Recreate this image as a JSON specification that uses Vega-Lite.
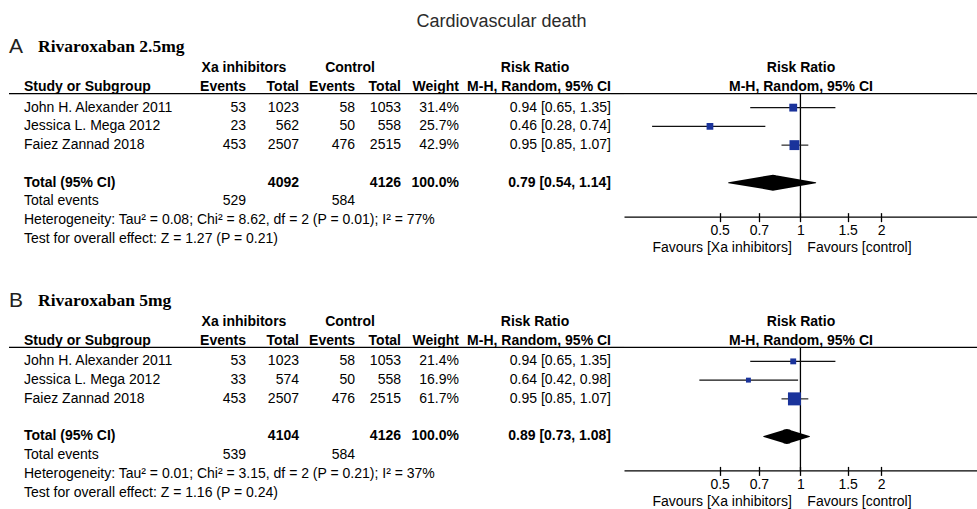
{
"$schema": "https://vega.github.io/schema/vega-lite/v6.json",
"autosize": {"type": "pad"},
"padding": {"left": 8, "top": 13, "right": 0, "bottom": 0},
"background": "white",
"title": {"text": "Cardiovascular death", "fontSize": 18, "font": "Liberation Sans", "fontWeight": "normal", "color": "#2b2b2b", "anchor": "middle", "offset": 5, "dx": 8},
"datasets": {
"t": [
{"panel": "A", "row": "r1", "study": "John H. Alexander 2011", "ev1": 53, "tot1": 1023, "ev2": 58, "tot2": 1053, "weight": 0.314, "rr": 0.94, "lo": 0.65, "hi": 1.35},
{"panel": "A", "row": "r2", "study": "Jessica L. Mega 2012", "ev1": 23, "tot1": 562, "ev2": 50, "tot2": 558, "weight": 0.257, "rr": 0.46, "lo": 0.28, "hi": 0.74},
{"panel": "A", "row": "r3", "study": "Faiez Zannad 2018", "ev1": 453, "tot1": 2507, "ev2": 476, "tot2": 2515, "weight": 0.429, "rr": 0.95, "lo": 0.85, "hi": 1.07},
{"panel": "A", "row": "tot", "study": "Total (95% CI)", "tot1": 4092, "tot2": 4126, "weight": 1.0, "rr": 0.79, "lo": 0.54, "hi": 1.14},
{"panel": "A", "row": "tev", "study": "Total events", "ev1": 529, "ev2": 584},
{"panel": "A", "row": "het", "study": "Heterogeneity: Tau² = 0.08; Chi² = 8.62, df = 2 (P = 0.01); I² = 77%"},
{"panel": "A", "row": "test", "study": "Test for overall effect: Z = 1.27 (P = 0.21)"},
{"panel": "B", "row": "r1", "study": "John H. Alexander 2011", "ev1": 53, "tot1": 1023, "ev2": 58, "tot2": 1053, "weight": 0.214, "rr": 0.94, "lo": 0.65, "hi": 1.35},
{"panel": "B", "row": "r2", "study": "Jessica L. Mega 2012", "ev1": 33, "tot1": 574, "ev2": 50, "tot2": 558, "weight": 0.169, "rr": 0.64, "lo": 0.42, "hi": 0.98},
{"panel": "B", "row": "r3", "study": "Faiez Zannad 2018", "ev1": 453, "tot1": 2507, "ev2": 476, "tot2": 2515, "weight": 0.617, "rr": 0.95, "lo": 0.85, "hi": 1.07},
{"panel": "B", "row": "tot", "study": "Total (95% CI)", "tot1": 4104, "tot2": 4126, "weight": 1.0, "rr": 0.89, "lo": 0.73, "hi": 1.08},
{"panel": "B", "row": "tev", "study": "Total events", "ev1": 539, "ev2": 584},
{"panel": "B", "row": "het", "study": "Heterogeneity: Tau² = 0.01; Chi² = 3.15, df = 2 (P = 0.21); I² = 37%"},
{"panel": "B", "row": "test", "study": "Test for overall effect: Z = 1.16 (P = 0.24)"}
],
"p": [
{"panel": "A", "row": "ttl", "lab": "A", "name": "Rivaroxaban 2.5mg"},
{"panel": "B", "row": "ttl", "lab": "B", "name": "Rivaroxaban 5mg"}
],
"h": [
{"row": "h1", "col": "g1", "text": "Xa inhibitors"},
{"row": "h1", "col": "g2", "text": "Control"},
{"row": "h1", "col": "ci", "text": "Risk Ratio"},
{"row": "h1", "col": "fp", "text": "Risk Ratio"},
{"row": "h2", "col": "study", "text": "Study or Subgroup"},
{"row": "h2", "col": "ev1", "text": "Events"},
{"row": "h2", "col": "tot1", "text": "Total"},
{"row": "h2", "col": "ev2", "text": "Events"},
{"row": "h2", "col": "tot2", "text": "Total"},
{"row": "h2", "col": "wt", "text": "Weight"},
{"row": "h2", "col": "ci", "text": "M-H, Random, 95% CI"},
{"row": "h2", "col": "fp", "text": "M-H, Random, 95% CI"}
]
},
"columns": 10,
"spacing": {"row": 46.75, "column": 0},
"bounds": "flush",
"concat": [
{"width": 15, "height": 206.25, "encoding": {"y": {"field": "row", "type": "nominal", "scale": {"domain": ["ttl","h1","h2","r1","r2","r3","gap","tot","tev","het","test"]}, "axis": null}}, "layer": [
{"data": {"name": "p"}, "transform": [{"filter": "datum.panel=='A'"}], "mark": {"type": "text", "align": "left", "fontSize": 21, "dy": -4, "color": "#231f20"}, "encoding": {"x": {"value": 0}, "text": {"field": "lab"}}},
{"data": {"values": [{"k": 1}]}, "mark": {"type": "rule", "yOffset": -14, "strokeWidth": 1.3, "color": "#000"}, "encoding": {"y": {"datum": "r1", "type": "nominal", "scale": {"domain": ["ttl","h1","h2","r1","r2","r3","gap","tot","tev","het","test"]}}}}
]},
{"width": 178, "height": 206.25, "encoding": {"y": {"field": "row", "type": "nominal", "scale": {"domain": ["ttl","h1","h2","r1","r2","r3","gap","tot","tev","het","test"]}, "axis": null}}, "layer": [
{"data": {"name": "p"}, "transform": [{"filter": "datum.panel=='A'"}], "mark": {"type": "text", "align": "left", "font": "Liberation Serif", "fontWeight": "bold", "fontSize": 17.5, "dx": 14, "dy": -4}, "encoding": {"x": {"value": 0}, "text": {"field": "name"}}},
{"data": {"name": "t"}, "transform": [{"filter": "datum.panel=='A' && datum.row!='tot'"}], "mark": {"type": "text", "align": "left"}, "encoding": {"x": {"value": 0}, "text": {"field": "study"}}},
{"data": {"name": "t"}, "transform": [{"filter": "datum.panel=='A' && datum.row=='tot'"}], "mark": {"type": "text", "align": "left", "fontWeight": "bold"}, "encoding": {"x": {"value": 0}, "text": {"field": "study"}}},
{"data": {"name": "h"}, "transform": [{"filter": "datum.col=='study'"}], "mark": {"type": "text", "align": "left", "fontWeight": "bold", "dy": -2}, "encoding": {"x": {"value": 0}, "text": {"field": "text"}}},
{"data": {"values": [{"k": 1}]}, "mark": {"type": "rule", "yOffset": -14, "strokeWidth": 1.3, "color": "#000"}, "encoding": {"y": {"datum": "r1", "type": "nominal", "scale": {"domain": ["ttl","h1","h2","r1","r2","r3","gap","tot","tev","het","test"]}}}}
]},
{"width": 44, "height": 206.25, "encoding": {"y": {"field": "row", "type": "nominal", "scale": {"domain": ["ttl","h1","h2","r1","r2","r3","gap","tot","tev","het","test"]}, "axis": null}}, "layer": [
{"data": {"name": "t"}, "transform": [{"filter": "datum.panel=='A' && isValid(datum.ev1)"}], "mark": {"type": "text", "align": "right"}, "encoding": {"x": {"value": "width"}, "text": {"field": "ev1", "type": "nominal"}}},
{"data": {"name": "h"}, "transform": [{"filter": "datum.col=='ev1'"}], "mark": {"type": "text", "align": "right", "fontWeight": "bold", "dy": -2}, "encoding": {"x": {"value": "width"}, "text": {"field": "text"}}},
{"data": {"name": "h"}, "transform": [{"filter": "datum.col=='g1'"}], "mark": {"type": "text", "align": "center", "fontWeight": "bold", "dy": -2, "dx": -2}, "encoding": {"x": {"value": "width"}, "text": {"field": "text"}}},
{"data": {"values": [{"k": 1}]}, "mark": {"type": "rule", "yOffset": -14, "strokeWidth": 1.3, "color": "#000"}, "encoding": {"y": {"datum": "r1", "type": "nominal", "scale": {"domain": ["ttl","h1","h2","r1","r2","r3","gap","tot","tev","het","test"]}}}}
]},
{"width": 53, "height": 206.25, "encoding": {"y": {"field": "row", "type": "nominal", "scale": {"domain": ["ttl","h1","h2","r1","r2","r3","gap","tot","tev","het","test"]}, "axis": null}}, "layer": [
{"data": {"name": "t"}, "transform": [{"filter": "datum.panel=='A' && isValid(datum.tot1) && datum.row!='tot'"}], "mark": {"type": "text", "align": "right"}, "encoding": {"x": {"value": "width"}, "text": {"field": "tot1", "type": "nominal"}}},
{"data": {"name": "t"}, "transform": [{"filter": "datum.panel=='A' && datum.row=='tot'"}], "mark": {"type": "text", "align": "right", "fontWeight": "bold"}, "encoding": {"x": {"value": "width"}, "text": {"field": "tot1", "type": "nominal"}}},
{"data": {"name": "h"}, "transform": [{"filter": "datum.col=='tot1'"}], "mark": {"type": "text", "align": "right", "fontWeight": "bold", "dy": -2}, "encoding": {"x": {"value": "width"}, "text": {"field": "text"}}},
{"data": {"values": [{"k": 1}]}, "mark": {"type": "rule", "yOffset": -14, "strokeWidth": 1.3, "color": "#000"}, "encoding": {"y": {"datum": "r1", "type": "nominal", "scale": {"domain": ["ttl","h1","h2","r1","r2","r3","gap","tot","tev","het","test"]}}}}
]},
{"width": 56, "height": 206.25, "encoding": {"y": {"field": "row", "type": "nominal", "scale": {"domain": ["ttl","h1","h2","r1","r2","r3","gap","tot","tev","het","test"]}, "axis": null}}, "layer": [
{"data": {"name": "t"}, "transform": [{"filter": "datum.panel=='A' && isValid(datum.ev2)"}], "mark": {"type": "text", "align": "right"}, "encoding": {"x": {"value": "width"}, "text": {"field": "ev2", "type": "nominal"}}},
{"data": {"name": "h"}, "transform": [{"filter": "datum.col=='ev2'"}], "mark": {"type": "text", "align": "right", "fontWeight": "bold", "dy": -2}, "encoding": {"x": {"value": "width"}, "text": {"field": "text"}}},
{"data": {"name": "h"}, "transform": [{"filter": "datum.col=='g2'"}], "mark": {"type": "text", "align": "center", "fontWeight": "bold", "dy": -2, "dx": -5}, "encoding": {"x": {"value": "width"}, "text": {"field": "text"}}},
{"data": {"values": [{"k": 1}]}, "mark": {"type": "rule", "yOffset": -14, "strokeWidth": 1.3, "color": "#000"}, "encoding": {"y": {"datum": "r1", "type": "nominal", "scale": {"domain": ["ttl","h1","h2","r1","r2","r3","gap","tot","tev","het","test"]}}}}
]},
{"width": 46, "height": 206.25, "encoding": {"y": {"field": "row", "type": "nominal", "scale": {"domain": ["ttl","h1","h2","r1","r2","r3","gap","tot","tev","het","test"]}, "axis": null}}, "layer": [
{"data": {"name": "t"}, "transform": [{"filter": "datum.panel=='A' && isValid(datum.tot2) && datum.row!='tot'"}], "mark": {"type": "text", "align": "right"}, "encoding": {"x": {"value": "width"}, "text": {"field": "tot2", "type": "nominal"}}},
{"data": {"name": "t"}, "transform": [{"filter": "datum.panel=='A' && datum.row=='tot'"}], "mark": {"type": "text", "align": "right", "fontWeight": "bold"}, "encoding": {"x": {"value": "width"}, "text": {"field": "tot2", "type": "nominal"}}},
{"data": {"name": "h"}, "transform": [{"filter": "datum.col=='tot2'"}], "mark": {"type": "text", "align": "right", "fontWeight": "bold", "dy": -2}, "encoding": {"x": {"value": "width"}, "text": {"field": "text"}}},
{"data": {"values": [{"k": 1}]}, "mark": {"type": "rule", "yOffset": -14, "strokeWidth": 1.3, "color": "#000"}, "encoding": {"y": {"datum": "r1", "type": "nominal", "scale": {"domain": ["ttl","h1","h2","r1","r2","r3","gap","tot","tev","het","test"]}}}}
]},
{"width": 58, "height": 206.25, "encoding": {"y": {"field": "row", "type": "nominal", "scale": {"domain": ["ttl","h1","h2","r1","r2","r3","gap","tot","tev","het","test"]}, "axis": null}}, "layer": [
{"data": {"name": "t"}, "transform": [{"filter": "datum.panel=='A' && isValid(datum.weight) && datum.row!='tot'"}], "mark": {"type": "text", "align": "right"}, "encoding": {"x": {"value": "width"}, "text": {"field": "weight", "type": "quantitative", "format": ".1%"}}},
{"data": {"name": "t"}, "transform": [{"filter": "datum.panel=='A' && datum.row=='tot'"}], "mark": {"type": "text", "align": "right", "fontWeight": "bold"}, "encoding": {"x": {"value": "width"}, "text": {"field": "weight", "type": "quantitative", "format": ".1%"}}},
{"data": {"name": "h"}, "transform": [{"filter": "datum.col=='wt'"}], "mark": {"type": "text", "align": "right", "fontWeight": "bold", "dy": -2}, "encoding": {"x": {"value": "width"}, "text": {"field": "text"}}},
{"data": {"values": [{"k": 1}]}, "mark": {"type": "rule", "yOffset": -14, "strokeWidth": 1.3, "color": "#000"}, "encoding": {"y": {"datum": "r1", "type": "nominal", "scale": {"domain": ["ttl","h1","h2","r1","r2","r3","gap","tot","tev","het","test"]}}}}
]},
{"width": 152, "height": 206.25, "encoding": {"y": {"field": "row", "type": "nominal", "scale": {"domain": ["ttl","h1","h2","r1","r2","r3","gap","tot","tev","het","test"]}, "axis": null}}, "layer": [
{"data": {"name": "t"}, "transform": [{"filter": "datum.panel=='A' && isValid(datum.rr) && datum.row!='tot'"}, {"calculate": "format(datum.rr,'.2f')+' ['+format(datum.lo,'.2f')+', '+format(datum.hi,'.2f')+']'", "as": "ci"}], "mark": {"type": "text", "align": "right"}, "encoding": {"x": {"value": "width"}, "text": {"field": "ci"}}},
{"data": {"name": "t"}, "transform": [{"filter": "datum.panel=='A' && datum.row=='tot'"}, {"calculate": "format(datum.rr,'.2f')+' ['+format(datum.lo,'.2f')+', '+format(datum.hi,'.2f')+']'", "as": "ci"}], "mark": {"type": "text", "align": "right", "fontWeight": "bold"}, "encoding": {"x": {"value": "width"}, "text": {"field": "ci"}}},
{"data": {"name": "h"}, "transform": [{"filter": "datum.col=='ci' && datum.row=='h1'"}], "mark": {"type": "text", "align": "center", "fontWeight": "bold", "dy": -2}, "encoding": {"text": {"field": "text"}}},
{"data": {"name": "h"}, "transform": [{"filter": "datum.col=='ci' && datum.row=='h2'"}], "mark": {"type": "text", "align": "right", "fontWeight": "bold", "dy": -2}, "encoding": {"x": {"value": "width"}, "text": {"field": "text"}}},
{"data": {"values": [{"k": 1}]}, "mark": {"type": "rule", "yOffset": -14, "strokeWidth": 1.3, "color": "#000"}, "encoding": {"y": {"datum": "r1", "type": "nominal", "scale": {"domain": ["ttl","h1","h2","r1","r2","r3","gap","tot","tev","het","test"]}}}}
]},
{"width": 13, "height": 206.25, "data": {"values": [{"k": 1}]}, "mark": {"type": "rule", "yOffset": -14, "strokeWidth": 1.3, "color": "#000"}, "encoding": {"y": {"datum": "r1", "type": "nominal", "scale": {"domain": ["ttl","h1","h2","r1","r2","r3","gap","tot","tev","het","test"]}, "axis": null}}},
{"width": 354, "height": 206.25, "resolve": {"axis": {"x": "independent"}}, "encoding": {"y": {"field": "row", "type": "nominal", "scale": {"domain": ["ttl","h1","h2","r1","r2","r3","gap","tot","tev","het","test"]}, "axis": null}}, "layer": [
{"data": {"name": "h"}, "transform": [{"filter": "datum.col=='fp'"}], "mark": {"type": "text", "align": "center", "fontWeight": "bold", "dy": -2}, "encoding": {"text": {"field": "text"}}},
{"data": {"values": [{"k": 1}]}, "mark": {"type": "rule", "yOffset": -14, "strokeWidth": 1.3, "color": "#000"}, "encoding": {"y": {"datum": "r1", "type": "nominal", "scale": {"domain": ["ttl","h1","h2","r1","r2","r3","gap","tot","tev","het","test"]}}}},
{"data": {"values": [{"k": 1}]}, "mark": {"type": "rule", "yOffset": -14, "y2Offset": -3.5, "strokeWidth": 1.3, "color": "#000"}, "encoding": {"x": {"datum": 1, "type": "quantitative", "scale": {"type": "log", "domain": [0.22, 4.59], "nice": false}, "axis": null}, "y": {"datum": "r1", "type": "nominal", "scale": {"domain": ["ttl","h1","h2","r1","r2","r3","gap","tot","tev","het","test"]}}, "y2": {"datum": "het"}}},
{"data": {"name": "t"}, "transform": [{"filter": "datum.panel=='A' && datum.row!='tot' && isValid(datum.lo)"}], "mark": {"type": "rule", "color": "#111", "strokeWidth": 1.1}, "encoding": {"x": {"field": "lo", "type": "quantitative", "scale": {"type": "log", "domain": [0.22, 4.59], "nice": false}, "axis": {"orient": "bottom", "offset": -31.6, "values": [0.5, 0.7, 1, 1.5, 2], "format": "~g", "grid": false, "domainColor": "#000", "domainWidth": 1.3, "tickColor": "#000", "tickSize": 5, "tickWidth": 1.3, "labelFont": "Liberation Sans", "labelFontSize": 14, "labelColor": "#000", "labelPadding": 2, "labelFlush": false, "labelOverlap": false, "labelBound": false, "title": "Favours [Xa inhibitors]\u00a0\u00a0\u00a0\u00a0Favours [control]", "titleFont": "Liberation Sans", "titleFontSize": 14, "titleFontWeight": "normal", "titleColor": "#000", "titleAnchor": "start", "titleAlign": "left", "titleX": 28, "titlePadding": 3}}, "x2": {"field": "hi"}}},
{"data": {"name": "t"}, "transform": [{"filter": "datum.panel=='A' && datum.row!='tot' && isValid(datum.lo)"}], "mark": {"type": "point", "shape": "square", "filled": true, "color": "#1a339b", "opacity": 1}, "encoding": {"x": {"field": "rr", "type": "quantitative", "scale": {"type": "log", "domain": [0.22, 4.59], "nice": false}, "axis": {"orient": "bottom", "offset": -31.6, "values": [0.5, 0.7, 1, 1.5, 2], "tickSize": -4, "tickColor": "#000", "tickWidth": 1.3, "labels": false, "domain": false, "grid": false, "title": null}}, "size": {"field": "weight", "type": "quantitative", "scale": {"type": "pow", "exponent": 1.5, "domain": [0, 0.617], "range": [0, 169]}, "legend": null}}},
{"data": {"name": "t"}, "transform": [{"filter": "datum.panel=='A' && datum.row=='tot'"}, {"fold": ["lo", "rr", "hi"], "as": ["v", "val"]}], "mark": {"type": "trail", "color": "#000"}, "encoding": {"x": {"field": "val", "type": "quantitative", "scale": {"type": "log", "domain": [0.22, 4.59], "nice": false}, "axis": null}, "size": {"condition": {"test": "datum.v=='rr'", "value": 16}, "value": 0}}}
]},
{"width": 15, "height": 206.25, "encoding": {"y": {"field": "row", "type": "nominal", "scale": {"domain": ["ttl","h1","h2","r1","r2","r3","gap","tot","tev","het","test"]}, "axis": null}}, "layer": [
{"data": {"name": "p"}, "transform": [{"filter": "datum.panel=='B'"}], "mark": {"type": "text", "align": "left", "fontSize": 21, "dy": -4, "color": "#231f20"}, "encoding": {"x": {"value": 0}, "text": {"field": "lab"}}},
{"data": {"values": [{"k": 1}]}, "mark": {"type": "rule", "yOffset": -14, "strokeWidth": 1.3, "color": "#000"}, "encoding": {"y": {"datum": "r1", "type": "nominal", "scale": {"domain": ["ttl","h1","h2","r1","r2","r3","gap","tot","tev","het","test"]}}}}
]},
{"width": 178, "height": 206.25, "encoding": {"y": {"field": "row", "type": "nominal", "scale": {"domain": ["ttl","h1","h2","r1","r2","r3","gap","tot","tev","het","test"]}, "axis": null}}, "layer": [
{"data": {"name": "p"}, "transform": [{"filter": "datum.panel=='B'"}], "mark": {"type": "text", "align": "left", "font": "Liberation Serif", "fontWeight": "bold", "fontSize": 17.5, "dx": 14, "dy": -4}, "encoding": {"x": {"value": 0}, "text": {"field": "name"}}},
{"data": {"name": "t"}, "transform": [{"filter": "datum.panel=='B' && datum.row!='tot'"}], "mark": {"type": "text", "align": "left"}, "encoding": {"x": {"value": 0}, "text": {"field": "study"}}},
{"data": {"name": "t"}, "transform": [{"filter": "datum.panel=='B' && datum.row=='tot'"}], "mark": {"type": "text", "align": "left", "fontWeight": "bold"}, "encoding": {"x": {"value": 0}, "text": {"field": "study"}}},
{"data": {"name": "h"}, "transform": [{"filter": "datum.col=='study'"}], "mark": {"type": "text", "align": "left", "fontWeight": "bold", "dy": -2}, "encoding": {"x": {"value": 0}, "text": {"field": "text"}}},
{"data": {"values": [{"k": 1}]}, "mark": {"type": "rule", "yOffset": -14, "strokeWidth": 1.3, "color": "#000"}, "encoding": {"y": {"datum": "r1", "type": "nominal", "scale": {"domain": ["ttl","h1","h2","r1","r2","r3","gap","tot","tev","het","test"]}}}}
]},
{"width": 44, "height": 206.25, "encoding": {"y": {"field": "row", "type": "nominal", "scale": {"domain": ["ttl","h1","h2","r1","r2","r3","gap","tot","tev","het","test"]}, "axis": null}}, "layer": [
{"data": {"name": "t"}, "transform": [{"filter": "datum.panel=='B' && isValid(datum.ev1)"}], "mark": {"type": "text", "align": "right"}, "encoding": {"x": {"value": "width"}, "text": {"field": "ev1", "type": "nominal"}}},
{"data": {"name": "h"}, "transform": [{"filter": "datum.col=='ev1'"}], "mark": {"type": "text", "align": "right", "fontWeight": "bold", "dy": -2}, "encoding": {"x": {"value": "width"}, "text": {"field": "text"}}},
{"data": {"name": "h"}, "transform": [{"filter": "datum.col=='g1'"}], "mark": {"type": "text", "align": "center", "fontWeight": "bold", "dy": -2, "dx": -2}, "encoding": {"x": {"value": "width"}, "text": {"field": "text"}}},
{"data": {"values": [{"k": 1}]}, "mark": {"type": "rule", "yOffset": -14, "strokeWidth": 1.3, "color": "#000"}, "encoding": {"y": {"datum": "r1", "type": "nominal", "scale": {"domain": ["ttl","h1","h2","r1","r2","r3","gap","tot","tev","het","test"]}}}}
]},
{"width": 53, "height": 206.25, "encoding": {"y": {"field": "row", "type": "nominal", "scale": {"domain": ["ttl","h1","h2","r1","r2","r3","gap","tot","tev","het","test"]}, "axis": null}}, "layer": [
{"data": {"name": "t"}, "transform": [{"filter": "datum.panel=='B' && isValid(datum.tot1) && datum.row!='tot'"}], "mark": {"type": "text", "align": "right"}, "encoding": {"x": {"value": "width"}, "text": {"field": "tot1", "type": "nominal"}}},
{"data": {"name": "t"}, "transform": [{"filter": "datum.panel=='B' && datum.row=='tot'"}], "mark": {"type": "text", "align": "right", "fontWeight": "bold"}, "encoding": {"x": {"value": "width"}, "text": {"field": "tot1", "type": "nominal"}}},
{"data": {"name": "h"}, "transform": [{"filter": "datum.col=='tot1'"}], "mark": {"type": "text", "align": "right", "fontWeight": "bold", "dy": -2}, "encoding": {"x": {"value": "width"}, "text": {"field": "text"}}},
{"data": {"values": [{"k": 1}]}, "mark": {"type": "rule", "yOffset": -14, "strokeWidth": 1.3, "color": "#000"}, "encoding": {"y": {"datum": "r1", "type": "nominal", "scale": {"domain": ["ttl","h1","h2","r1","r2","r3","gap","tot","tev","het","test"]}}}}
]},
{"width": 56, "height": 206.25, "encoding": {"y": {"field": "row", "type": "nominal", "scale": {"domain": ["ttl","h1","h2","r1","r2","r3","gap","tot","tev","het","test"]}, "axis": null}}, "layer": [
{"data": {"name": "t"}, "transform": [{"filter": "datum.panel=='B' && isValid(datum.ev2)"}], "mark": {"type": "text", "align": "right"}, "encoding": {"x": {"value": "width"}, "text": {"field": "ev2", "type": "nominal"}}},
{"data": {"name": "h"}, "transform": [{"filter": "datum.col=='ev2'"}], "mark": {"type": "text", "align": "right", "fontWeight": "bold", "dy": -2}, "encoding": {"x": {"value": "width"}, "text": {"field": "text"}}},
{"data": {"name": "h"}, "transform": [{"filter": "datum.col=='g2'"}], "mark": {"type": "text", "align": "center", "fontWeight": "bold", "dy": -2, "dx": -5}, "encoding": {"x": {"value": "width"}, "text": {"field": "text"}}},
{"data": {"values": [{"k": 1}]}, "mark": {"type": "rule", "yOffset": -14, "strokeWidth": 1.3, "color": "#000"}, "encoding": {"y": {"datum": "r1", "type": "nominal", "scale": {"domain": ["ttl","h1","h2","r1","r2","r3","gap","tot","tev","het","test"]}}}}
]},
{"width": 46, "height": 206.25, "encoding": {"y": {"field": "row", "type": "nominal", "scale": {"domain": ["ttl","h1","h2","r1","r2","r3","gap","tot","tev","het","test"]}, "axis": null}}, "layer": [
{"data": {"name": "t"}, "transform": [{"filter": "datum.panel=='B' && isValid(datum.tot2) && datum.row!='tot'"}], "mark": {"type": "text", "align": "right"}, "encoding": {"x": {"value": "width"}, "text": {"field": "tot2", "type": "nominal"}}},
{"data": {"name": "t"}, "transform": [{"filter": "datum.panel=='B' && datum.row=='tot'"}], "mark": {"type": "text", "align": "right", "fontWeight": "bold"}, "encoding": {"x": {"value": "width"}, "text": {"field": "tot2", "type": "nominal"}}},
{"data": {"name": "h"}, "transform": [{"filter": "datum.col=='tot2'"}], "mark": {"type": "text", "align": "right", "fontWeight": "bold", "dy": -2}, "encoding": {"x": {"value": "width"}, "text": {"field": "text"}}},
{"data": {"values": [{"k": 1}]}, "mark": {"type": "rule", "yOffset": -14, "strokeWidth": 1.3, "color": "#000"}, "encoding": {"y": {"datum": "r1", "type": "nominal", "scale": {"domain": ["ttl","h1","h2","r1","r2","r3","gap","tot","tev","het","test"]}}}}
]},
{"width": 58, "height": 206.25, "encoding": {"y": {"field": "row", "type": "nominal", "scale": {"domain": ["ttl","h1","h2","r1","r2","r3","gap","tot","tev","het","test"]}, "axis": null}}, "layer": [
{"data": {"name": "t"}, "transform": [{"filter": "datum.panel=='B' && isValid(datum.weight) && datum.row!='tot'"}], "mark": {"type": "text", "align": "right"}, "encoding": {"x": {"value": "width"}, "text": {"field": "weight", "type": "quantitative", "format": ".1%"}}},
{"data": {"name": "t"}, "transform": [{"filter": "datum.panel=='B' && datum.row=='tot'"}], "mark": {"type": "text", "align": "right", "fontWeight": "bold"}, "encoding": {"x": {"value": "width"}, "text": {"field": "weight", "type": "quantitative", "format": ".1%"}}},
{"data": {"name": "h"}, "transform": [{"filter": "datum.col=='wt'"}], "mark": {"type": "text", "align": "right", "fontWeight": "bold", "dy": -2}, "encoding": {"x": {"value": "width"}, "text": {"field": "text"}}},
{"data": {"values": [{"k": 1}]}, "mark": {"type": "rule", "yOffset": -14, "strokeWidth": 1.3, "color": "#000"}, "encoding": {"y": {"datum": "r1", "type": "nominal", "scale": {"domain": ["ttl","h1","h2","r1","r2","r3","gap","tot","tev","het","test"]}}}}
]},
{"width": 152, "height": 206.25, "encoding": {"y": {"field": "row", "type": "nominal", "scale": {"domain": ["ttl","h1","h2","r1","r2","r3","gap","tot","tev","het","test"]}, "axis": null}}, "layer": [
{"data": {"name": "t"}, "transform": [{"filter": "datum.panel=='B' && isValid(datum.rr) && datum.row!='tot'"}, {"calculate": "format(datum.rr,'.2f')+' ['+format(datum.lo,'.2f')+', '+format(datum.hi,'.2f')+']'", "as": "ci"}], "mark": {"type": "text", "align": "right"}, "encoding": {"x": {"value": "width"}, "text": {"field": "ci"}}},
{"data": {"name": "t"}, "transform": [{"filter": "datum.panel=='B' && datum.row=='tot'"}, {"calculate": "format(datum.rr,'.2f')+' ['+format(datum.lo,'.2f')+', '+format(datum.hi,'.2f')+']'", "as": "ci"}], "mark": {"type": "text", "align": "right", "fontWeight": "bold"}, "encoding": {"x": {"value": "width"}, "text": {"field": "ci"}}},
{"data": {"name": "h"}, "transform": [{"filter": "datum.col=='ci' && datum.row=='h1'"}], "mark": {"type": "text", "align": "center", "fontWeight": "bold", "dy": -2}, "encoding": {"text": {"field": "text"}}},
{"data": {"name": "h"}, "transform": [{"filter": "datum.col=='ci' && datum.row=='h2'"}], "mark": {"type": "text", "align": "right", "fontWeight": "bold", "dy": -2}, "encoding": {"x": {"value": "width"}, "text": {"field": "text"}}},
{"data": {"values": [{"k": 1}]}, "mark": {"type": "rule", "yOffset": -14, "strokeWidth": 1.3, "color": "#000"}, "encoding": {"y": {"datum": "r1", "type": "nominal", "scale": {"domain": ["ttl","h1","h2","r1","r2","r3","gap","tot","tev","het","test"]}}}}
]},
{"width": 13, "height": 206.25, "data": {"values": [{"k": 1}]}, "mark": {"type": "rule", "yOffset": -14, "strokeWidth": 1.3, "color": "#000"}, "encoding": {"y": {"datum": "r1", "type": "nominal", "scale": {"domain": ["ttl","h1","h2","r1","r2","r3","gap","tot","tev","het","test"]}, "axis": null}}},
{"width": 354, "height": 206.25, "resolve": {"axis": {"x": "independent"}}, "encoding": {"y": {"field": "row", "type": "nominal", "scale": {"domain": ["ttl","h1","h2","r1","r2","r3","gap","tot","tev","het","test"]}, "axis": null}}, "layer": [
{"data": {"name": "h"}, "transform": [{"filter": "datum.col=='fp'"}], "mark": {"type": "text", "align": "center", "fontWeight": "bold", "dy": -2}, "encoding": {"text": {"field": "text"}}},
{"data": {"values": [{"k": 1}]}, "mark": {"type": "rule", "yOffset": -14, "strokeWidth": 1.3, "color": "#000"}, "encoding": {"y": {"datum": "r1", "type": "nominal", "scale": {"domain": ["ttl","h1","h2","r1","r2","r3","gap","tot","tev","het","test"]}}}},
{"data": {"values": [{"k": 1}]}, "mark": {"type": "rule", "yOffset": -14, "y2Offset": -3.5, "strokeWidth": 1.3, "color": "#000"}, "encoding": {"x": {"datum": 1, "type": "quantitative", "scale": {"type": "log", "domain": [0.22, 4.59], "nice": false}, "axis": null}, "y": {"datum": "r1", "type": "nominal", "scale": {"domain": ["ttl","h1","h2","r1","r2","r3","gap","tot","tev","het","test"]}}, "y2": {"datum": "het"}}},
{"data": {"name": "t"}, "transform": [{"filter": "datum.panel=='B' && datum.row!='tot' && isValid(datum.lo)"}], "mark": {"type": "rule", "color": "#111", "strokeWidth": 1.1}, "encoding": {"x": {"field": "lo", "type": "quantitative", "scale": {"type": "log", "domain": [0.22, 4.59], "nice": false}, "axis": {"orient": "bottom", "offset": -31.6, "values": [0.5, 0.7, 1, 1.5, 2], "format": "~g", "grid": false, "domainColor": "#000", "domainWidth": 1.3, "tickColor": "#000", "tickSize": 5, "tickWidth": 1.3, "labelFont": "Liberation Sans", "labelFontSize": 14, "labelColor": "#000", "labelPadding": 2, "labelFlush": false, "labelOverlap": false, "labelBound": false, "title": "Favours [Xa inhibitors]\u00a0\u00a0\u00a0\u00a0Favours [control]", "titleFont": "Liberation Sans", "titleFontSize": 14, "titleFontWeight": "normal", "titleColor": "#000", "titleAnchor": "start", "titleAlign": "left", "titleX": 28, "titlePadding": 3}}, "x2": {"field": "hi"}}},
{"data": {"name": "t"}, "transform": [{"filter": "datum.panel=='B' && datum.row!='tot' && isValid(datum.lo)"}], "mark": {"type": "point", "shape": "square", "filled": true, "color": "#1a339b", "opacity": 1}, "encoding": {"x": {"field": "rr", "type": "quantitative", "scale": {"type": "log", "domain": [0.22, 4.59], "nice": false}, "axis": {"orient": "bottom", "offset": -31.6, "values": [0.5, 0.7, 1, 1.5, 2], "tickSize": -4, "tickColor": "#000", "tickWidth": 1.3, "labels": false, "domain": false, "grid": false, "title": null}}, "size": {"field": "weight", "type": "quantitative", "scale": {"type": "pow", "exponent": 1.5, "domain": [0, 0.617], "range": [0, 169]}, "legend": null}}},
{"data": {"name": "t"}, "transform": [{"filter": "datum.panel=='B' && datum.row=='tot'"}, {"fold": ["lo", "rr", "hi"], "as": ["v", "val"]}], "mark": {"type": "trail", "color": "#000"}, "encoding": {"x": {"field": "val", "type": "quantitative", "scale": {"type": "log", "domain": [0.22, 4.59], "nice": false}, "axis": null}, "size": {"condition": {"test": "datum.v=='rr'", "value": 15}, "value": 0}}}
]}
],
"config": {
"view": {"stroke": null},
"text": {"font": "Liberation Sans", "fontSize": 14, "color": "#000", "baseline": "middle"},
"concat": {"spacing": 0}
}
}
